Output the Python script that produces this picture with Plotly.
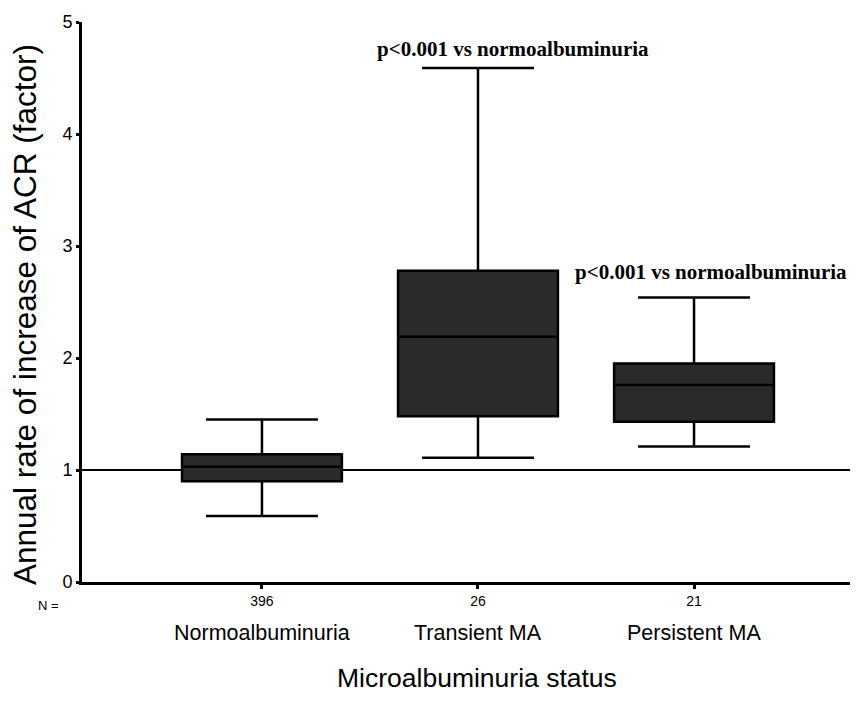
import plotly.graph_objects as go

categories = ["Normoalbuminuria", "Transient MA", "Persistent MA"]
n_labels = ["396", "26", "21"]
lower_whisker = [0.59, 1.11, 1.21]
q1_vals = [0.90, 1.48, 1.43]
median_vals = [1.03, 2.19, 1.76]
q3_vals = [1.14, 2.78, 1.95]
upper_whisker = [1.45, 4.59, 2.54]
annot_text = "p<0.001 vs normoalbuminuria"
annot_pos = [(2.16, 4.76), (3.08, 2.77)]
x_pos = [1, 2, 3]

# page body has an 8px margin: figure drawn 8px right/down of the window origin
PL, PT, PW, PH = 82, 22, 776, 560  # plot area in screen pixels
FIG_W, FIG_H = 850, 697


def px_x(X):
    return (X - PL) / PW


def px_y(Y):
    return (PT + PH - Y) / PH


fig = go.Figure()
for i, cat in enumerate(categories):
    fig.add_trace(go.Box(
        x=[x_pos[i]],
        q1=[q1_vals[i]], median=[median_vals[i]], q3=[q3_vals[i]],
        lowerfence=[lower_whisker[i]], upperfence=[upper_whisker[i]],
        name=cat, width=0.74, whiskerwidth=0.7,
        fillcolor="#2a2a2a", line=dict(color="black", width=2.5),
        showlegend=False, boxpoints=False,
    ))

# reference line at 1
fig.add_shape(type="line", xref="paper", x0=0, x1=1, yref="y", y0=1, y1=1,
              line=dict(color="black", width=2), layer="below")

for (ax, ay) in annot_pos:
    fig.add_annotation(x=ax, y=ay, text="<b>" + annot_text + "</b>", showarrow=False,
                       font=dict(family="Liberation Serif", size=21, color="black"),
                       xanchor="center", yanchor="middle")

# category labels
for i, cat in enumerate(categories):
    fig.add_annotation(x=x_pos[i], xref="x", y=px_y(633), yref="paper",
                       text=cat, showarrow=False,
                       font=dict(family="Liberation Sans", size=21.5, color="black"),
                       xanchor="center", yanchor="middle")

fig.add_annotation(x=px_x(48), xref="paper", y=px_y(605), yref="paper",
                   text="N =", showarrow=False,
                   font=dict(family="Liberation Sans Narrow, Liberation Sans", size=13, color="black"),
                   xanchor="center", yanchor="middle")

fig.add_annotation(x=px_x(477), xref="paper", y=px_y(678), yref="paper",
                   text="Microalbuminuria status", showarrow=False,
                   font=dict(family="Liberation Sans", size=26.5, color="black"),
                   xanchor="center", yanchor="middle")

fig.add_annotation(x=px_x(25), xref="paper", y=px_y(315), yref="paper",
                   text="Annual rate of increase of ACR (factor)", showarrow=False,
                   textangle=-90,
                   font=dict(family="Liberation Sans", size=31.5, color="black"),
                   xanchor="center", yanchor="middle")

fig.update_layout(
    width=FIG_W, height=FIG_H,
    margin=dict(l=PL - 8, r=FIG_W - (PL - 8) - PW, t=PT - 8, b=FIG_H - (PT - 8) - PH,
                autoexpand=False),
    plot_bgcolor="white", paper_bgcolor="white",
    xaxis=dict(range=[0.167, 3.759], tickvals=x_pos, ticktext=n_labels,
               showgrid=False, zeroline=False, showline=True, linecolor="black", linewidth=3,
               ticks="outside", ticklen=4, tickwidth=3, tickcolor="black",
               tickfont=dict(family="Liberation Sans Narrow, Liberation Sans", size=14, color="black")),
    yaxis=dict(range=[0, 5], tickvals=[0, 1, 2, 3, 4, 5],
               showgrid=False, zeroline=False, showline=True, linecolor="black", linewidth=3,
               ticks="outside", ticklen=3, tickwidth=3, tickcolor="black",
               tickfont=dict(family="Liberation Sans", size=18, color="black")),
)

fig.write_html("out.html")
